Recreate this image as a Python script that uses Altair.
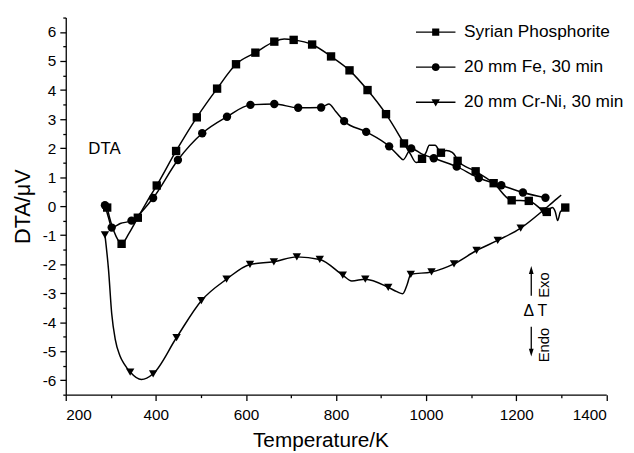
import math
import altair as alt
import pandas as pd

FONT = "Liberation Sans"

series = ["Syrian Phosphorite", "20 mm Fe, 30 min", "20 mm Cr-Ni, 30 min"]

# ---- traced curves (temperature K, DTA µV) ----
syr_line_T = [292, 300, 312, 324, 340, 360, 380, 402, 445, 491, 536, 578, 621, 663, 685, 706,
              747, 789, 830, 870, 911, 951, 965, 978, 991, 1000, 1007, 1020, 1033, 1045, 1058,
              1065, 1070, 1110, 1150, 1190, 1228, 1268, 1280, 1287, 1292, 1298, 1309]
syr_line_V = [-0.05, -0.55, -1.05, -1.30, -0.95, -0.40, 0.15, 0.71, 1.90, 3.06, 4.05, 4.89, 5.29,
              5.67, 5.76, 5.73, 5.57, 5.16, 4.68, 4.00, 3.17, 2.16, 1.80, 1.50, 1.63, 1.85, 2.10,
              2.10, 1.84, 1.92, 1.85, 1.72, 1.56, 1.20, 0.79, 0.20, 0.18, -0.20, -0.05, -0.20,
              -0.50, -0.20, -0.05]

fe_line_T = [287, 295, 302, 321, 346, 394, 449, 503, 558, 610, 663, 716, 767, 784, 800, 818,
             867, 918, 938, 949, 967, 990, 1017, 1068, 1117, 1167, 1215, 1265]
fe_line_V = [0.03, -0.40, -0.74, -0.60, -0.50, 0.28, 1.59, 2.51, 3.08, 3.49, 3.52, 3.39, 3.40,
             3.52, 3.25, 2.93, 2.56, 2.06, 1.75, 1.60, 1.99, 1.80, 1.65, 1.36, 0.97, 0.72, 0.47,
             0.29]

cr_line_T = [287, 295, 302, 310, 320, 330, 343, 368, 394, 446, 501, 557, 609, 662, 713, 764,
             815, 835, 865, 916, 935, 948, 958, 966, 1012, 1062, 1112, 1159, 1210, 1259, 1275,
             1290, 1300]
cr_line_V = [-0.99, -2.20, -3.70, -4.60, -5.15, -5.45, -5.72, -5.98, -5.78, -4.53, -3.26, -2.52,
             -2.01, -1.92, -1.75, -1.84, -2.38, -2.58, -2.52, -2.80, -2.95, -3.02, -2.70, -2.35,
             -2.27, -1.99, -1.53, -1.18, -0.76, -0.16, 0.05, 0.25, 0.38]

# ---- marker positions ----
syr_mark_T = [292, 324, 360, 402, 445, 491, 536, 578, 621, 663, 706, 747, 789, 830, 870, 911,
              951, 991, 1033, 1070, 1110, 1150, 1190, 1228, 1268, 1309]
syr_mark_V = [-0.05, -1.30, -0.40, 0.71, 1.90, 3.06, 4.05, 4.89, 5.29, 5.67, 5.73, 5.57, 5.16,
              4.68, 4.00, 3.17, 2.16, 1.63, 1.84, 1.56, 1.20, 0.79, 0.20, 0.18, -0.20, -0.05]

fe_mark_T = [287, 302, 346, 394, 449, 503, 558, 610, 663, 716, 767, 818, 867, 918, 967, 1017,
             1068, 1117, 1167, 1215, 1265]
fe_mark_V = [0.03, -0.74, -0.50, 0.28, 1.59, 2.51, 3.08, 3.49, 3.52, 3.39, 3.40, 2.93, 2.56,
             2.06, 1.99, 1.65, 1.36, 0.97, 0.72, 0.47, 0.29]

cr_mark_T = [287, 343, 394, 446, 501, 557, 609, 662, 713, 764, 815, 865, 916, 966, 1012, 1062,
             1112, 1159, 1210, 1259]
cr_mark_V = [-0.99, -5.72, -5.78, -4.53, -3.26, -2.52, -2.01, -1.92, -1.75, -1.84, -2.38, -2.52,
             -2.80, -2.35, -2.27, -1.99, -1.53, -1.18, -0.76, -0.16]

x_major_ticks = [200, 400, 600, 800, 1000, 1200, 1400]
x_minor_ticks = [300, 500, 700, 900, 1100, 1300]
y_major_ticks = [-6, -5, -4, -3, -2, -1, 0, 1, 2, 3, 4, 5, 6]
y_minor_ticks = [-6.5, -5.5, -4.5, -3.5, -2.5, -1.5, -0.5, 0.5, 1.5, 2.5, 3.5, 4.5, 5.5, 6.5]


def long_table(names, Ts, Vs):
    rows = []
    for n, ts, vs in zip(names, Ts, Vs):
        for t, v in zip(ts, vs):
            rows.append({"series": n, "T": t, "V": v})
    return pd.DataFrame(rows)


lines_df = long_table(series, [syr_line_T, fe_line_T, cr_line_T], [syr_line_V, fe_line_V, cr_line_V])
marks_df = long_table(series, [syr_mark_T, fe_mark_T, cr_mark_T], [syr_mark_V, fe_mark_V, cr_mark_V])

xscale = alt.Scale(domain=[200, 1400], nice=False, zero=False)
yscale = alt.Scale(domain=[-6.5, 6.5], nice=False, zero=False)

axis_common = dict(grid=False, domainColor="black", tickColor="black", labelColor="black",
                   domainWidth=1.3, tickWidth=1.3, labelFont=FONT, titleFont=FONT,
                   titleColor="black", titleFontWeight="normal")

x_major = alt.Axis(values=x_major_ticks, orient="bottom", title="Temperature/K", tickSize=6,
                   labelFontSize=15.5, labelPadding=7, titleFontSize=21, titleX=258,
                   titleY=52, titleBaseline="alphabetic", titleAlign="center",
                   labelExpr="'' + datum.value", **axis_common)
y_major = alt.Axis(values=y_major_ticks, orient="left", title="DTA/\u03bcV", tickSize=6,
                   labelFontSize=15.5, labelPadding=4, titleFontSize=22, titleX=-37,
                   titleY=191, titleAngle=270, titleBaseline="alphabetic", titleAlign="center",
                   labelExpr="'' + datum.value", **axis_common)
x_minor = alt.Axis(values=x_minor_ticks, orient="bottom", title=None, labels=False, domain=False,
                   tickSize=3, grid=False, tickColor="black", tickWidth=1.3)
y_minor = alt.Axis(values=y_minor_ticks, orient="left", title=None, labels=False, domain=False,
                   tickSize=3, grid=False, tickColor="black", tickWidth=1.3)

lines = alt.Chart(lines_df).mark_line(color="black", strokeWidth=1.5, interpolate="monotone").encode(
    x=alt.X("T:Q", scale=xscale, axis=x_major),
    y=alt.Y("V:Q", scale=yscale, axis=y_major),
    detail="series:N",
)

points = alt.Chart(marks_df).mark_point(filled=True, color="black", opacity=1, size=72).encode(
    x=alt.X("T:Q", scale=xscale, axis=x_minor),
    y=alt.Y("V:Q", scale=yscale, axis=y_minor),
    shape=alt.Shape("series:N", scale=alt.Scale(domain=series, range=["square", "circle", "triangle-down"]),
                    legend=None),
)

# legend symbols: a short (filled, thin) line with the marker in the middle; all clockwise
bar = "M-4,-0.14H4V0.14H-4Z"
circ = "M0.8,0" + "".join(
    "L%.3f,%.3f" % (0.8 * math.cos(2 * math.pi * k / 16), 0.8 * math.sin(2 * math.pi * k / 16))
    for k in range(1, 16)) + "Z"
legend_paths = [
    bar + "M-0.72,-0.72H0.72V0.72H-0.72Z",
    bar + circ,
    bar + "M-0.85,-0.6H0.85L0,0.85Z",
]

legend_layer = alt.Chart(marks_df).mark_point(filled=True, color="black", opacity=0).encode(
    x=alt.X("T:Q", scale=xscale, axis=None),
    y=alt.Y("V:Q", scale=yscale, axis=None),
    shape=alt.Shape("series:N", scale=alt.Scale(domain=series, range=legend_paths),
                    legend=alt.Legend(title=None, orient="none", legendX=366, legendY=6,
                                      symbolSize=100, symbolStrokeWidth=0,
                                      symbolFillColor="black", symbolStrokeColor="black",
                                      symbolOpacity=1, labelOffset=20, rowPadding=16.5,
                                      padding=0, labelFont=FONT, labelFontSize=17.5,
                                      labelColor="black", labelLimit=400)),
)

# ---- annotations (in data coordinates) ----
ann_T = 1233.5
txt_df = pd.DataFrame({"T": [250, 1242.7], "V": [1.81, -3.63], "label": ["DTA", "\u0394 T"]})
dta_txt = alt.Chart(txt_df.iloc[[0]]).mark_text(font=FONT, fontSize=17, align="left",
                                                baseline="alphabetic", color="black").encode(
    x=alt.X("T:Q", scale=xscale, axis=None), y=alt.Y("V:Q", scale=yscale, axis=None), text="label:N")
dt_txt = alt.Chart(txt_df.iloc[[1]]).mark_text(font=FONT, fontSize=16, align="center",
                                               baseline="middle", color="black").encode(
    x=alt.X("T:Q", scale=xscale, axis=None), y=alt.Y("V:Q", scale=yscale, axis=None), text="label:N")

rot_df = pd.DataFrame({"T": [1260.9, 1260.9], "V": [-2.72, -4.79], "label": ["Exo", "Endo"]})
rot_txt = alt.Chart(rot_df).mark_text(font=FONT, fontSize=15, align="center", baseline="middle",
                                      angle=270, color="black").encode(
    x=alt.X("T:Q", scale=xscale, axis=None), y=alt.Y("V:Q", scale=yscale, axis=None), text="label:N")

shaft_df = pd.DataFrame({"T": [ann_T, ann_T], "V": [-3.09, -4.16], "V2": [-2.28, -4.98]})
shafts = alt.Chart(shaft_df).mark_rule(color="black", strokeWidth=1.3).encode(
    x=alt.X("T:Q", scale=xscale, axis=None), y=alt.Y("V:Q", scale=yscale, axis=None), y2="V2:Q")

head_df = pd.DataFrame({"T": [ann_T, ann_T], "V": [-2.20, -5.05], "dir": ["up", "down"]})
heads = alt.Chart(head_df).mark_point(filled=True, color="black", opacity=1, size=64).encode(
    x=alt.X("T:Q", scale=xscale, axis=None), y=alt.Y("V:Q", scale=yscale, axis=None),
    shape=alt.Shape("dir:N", scale=alt.Scale(domain=["up", "down"],
                                             range=["M0,-1L0.6,1L-0.6,1Z", "M0,1L0.6,-1L-0.6,-1Z"]),
                    legend=None),
)

chart = alt.layer(lines, points, legend_layer, dta_txt, dt_txt, rot_txt, shafts, heads).resolve_scale(
    shape="independent"
).resolve_axis(
    x="independent", y="independent"
).properties(
    width=547.5, height=382,
    padding={"left": 58.5, "top": 6.8, "right": 20, "bottom": 56},
    autosize=alt.AutoSizeParams(type="none"),
).configure_view(stroke=None)

chart.save("out.html", embed_options={"renderer": "svg", "actions": False})
